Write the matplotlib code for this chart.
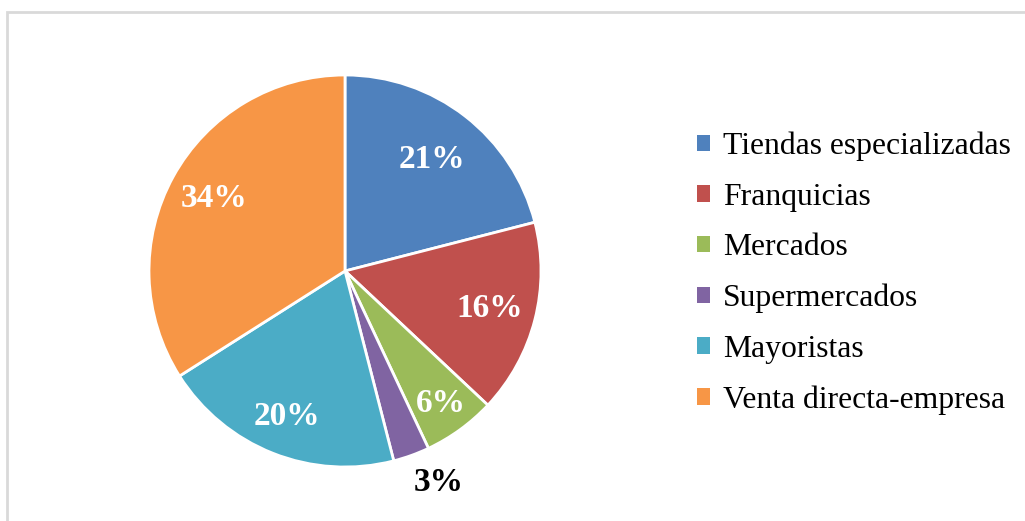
import numpy as np
import matplotlib.pyplot as plt
from matplotlib.patches import Patch, Rectangle

# data
categorias = ["Tiendas especializadas", "Franquicias", "Mercados",
              "Supermercados", "Mayoristas", "Venta directa-empresa"]
porcentajes = [21, 16, 6, 3, 20, 34]
colores = ["#4F81BD", "#C0504D", "#9BBB59", "#8064A2", "#4BACC6", "#F79646"]

plt.rcParams["font.family"] = ["Liberation Serif", "DejaVu Serif"]

W, H = 1025, 521
fig = plt.figure(figsize=(W / 100, H / 100), dpi=100)

# light gray chart border (right and bottom edges run off the image)
fig.patches.append(Rectangle((7 / W, -0.1), 1.2, (H - 12) / H + 0.1,
                             transform=fig.transFigure, fill=False,
                             edgecolor="#D9D9D9", linewidth=2))

# pie placed by pixels: centre (345, 271), radius 196
cx, cy, r = 345, 271, 196
ax = fig.add_axes([(cx - r) / W, (H - cy - r) / H, 2 * r / W, 2 * r / H])

wedges, texts, autotexts = ax.pie(
    porcentajes, colors=colores, startangle=90, counterclock=False,
    autopct="%d%%", pctdistance=0.73, radius=1,
    wedgeprops=dict(edgecolor="white", linewidth=2),
    textprops=dict(color="white", fontsize=24, fontweight="bold"))
ax.set_xlim(-1, 1)
ax.set_ylim(-1, 1)

# label distance from centre per slice (Excel's placement), 3% goes outside
dist = [0.72, 0.76, 0.835, 1.18, 0.80, 0.765]
for i, (w, t) in enumerate(zip(wedges, autotexts)):
    ang = np.deg2rad((w.theta1 + w.theta2) / 2 + (4 if i == 3 else 0))
    t.set_position((dist[i] * np.cos(ang), dist[i] * np.sin(ang)))
    t.set_clip_on(False)
autotexts[3].set_color("black")

handles = [Patch(facecolor=c, edgecolor="none") for c in colores]
fig.legend(handles, categorias, loc="upper left",
           bbox_to_anchor=(684 / W, 1 - 119 / H), frameon=False,
           fontsize=22.8, handlelength=0.42, handleheight=0.42,
           handletextpad=0.4, labelspacing=0.68, borderaxespad=0)

fig.savefig("out.png", dpi=100)
